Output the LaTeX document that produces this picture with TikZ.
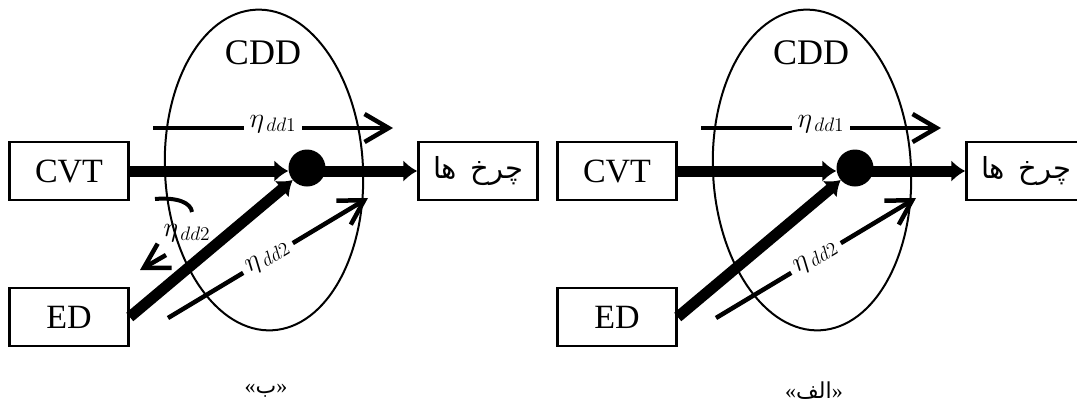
\documentclass[tikz,border=0pt]{standalone}
\usepackage{fontspec}
\setmainfont{Liberation Serif}
\newfontfamily\arabicfont[Script=Arabic]{DejaVu Sans}
\TeXXeTstate=1
\usetikzlibrary{arrows.meta,shapes.geometric}

\begin{document}
\begin{tikzpicture}[x=1pt, y=-1pt,
  box/.style={draw, line width=2.5pt, minimum width=119pt, minimum height=58pt,
              inner sep=0pt, font=\fontsize{34}{36}\selectfont},
  hub/.style={circle, fill=black, minimum size=37pt, inner sep=0pt},
  flow/.style={line width=11pt, -{Latex[length=14pt,width=22pt]}},
  eff/.style={line width=4.5pt, -{Straight Barb[length=24pt,width=28pt]}},
  lbl/.style={font=\huge, scale=1.35, inner sep=1pt}
]
  \useasboundingbox (0,0) rectangle (1077,410);
  \clip (0,0) rectangle (1077,410);

  \foreach \s/\n/\lab in {0/b/{\beginR ب\endR}, 548/a/{\beginR الف\endR}} {
  \begin{scope}[xshift=\s pt]
    % Nodes
    \node[draw, ellipse, line width=2pt, minimum width=198pt, minimum height=321pt,
          inner sep=0pt, rotate=3] (cdd\n) at (264,170) {};
    \node[font=\fontsize{36}{38}\selectfont] (cddname\n) at (263,53) {CDD};
    \node[box] (cvt\n) at (69,171) {CVT};
    \node[box] (ed\n)  at (69,317) {ED};
    \node[box, font=\arabicfont\fontsize{29}{30}\selectfont] (whl\n) at (478,171) {\beginR چرخ\hspace{4pt} ها\endR};
    \node[hub] (hub\n) at (307,168) {};
    \node[font=\arabicfont\fontsize{22}{24}\selectfont] (cap\n) at (266,391) {{\rmfamily«}\lab{\rmfamily»}};

    % Power paths
    \draw[flow] (cvt\n.east) -- (cvt\n.east -| hub\n.west);
    \draw[flow] (ed\n.east) -- (hub\n);
    \draw[flow] (hub\n.center |- whl\n.west) -- (whl\n.west);

    % Efficiency arrows
    \coordinate (upa\n) at (153,128);
    \coordinate (upb\n) at (393,128);
    \coordinate (lowa\n) at (168,318);
    \coordinate (lowb\n) at (368,198);
    \draw[eff] (upa\n) -- node[lbl, fill=white, inner xsep=4pt, yshift=3pt] {$\eta_{\,dd1}$} (upb\n);
    \draw[eff] (lowa\n) -- node[lbl, fill=white, inner xsep=4pt, sloped] {$\eta_{\,dd2}$} (lowb\n);
  \end{scope}
  }

  % Reverse flow around ED
  \coordinate (rota) at (155,199);
  \coordinate (rotb) at (192,212);
  \coordinate (rotc) at (166,255);
  \coordinate (rotd) at (140,270);
  \draw[line width=4pt] (rota) .. controls (178,197) and (191,203) .. (rotb);
  \draw[eff] (rotc) -- (rotd);
  \node[lbl] (rotname) at (187,233) {$\eta_{\,dd2}$};
\end{tikzpicture}
\end{document}
